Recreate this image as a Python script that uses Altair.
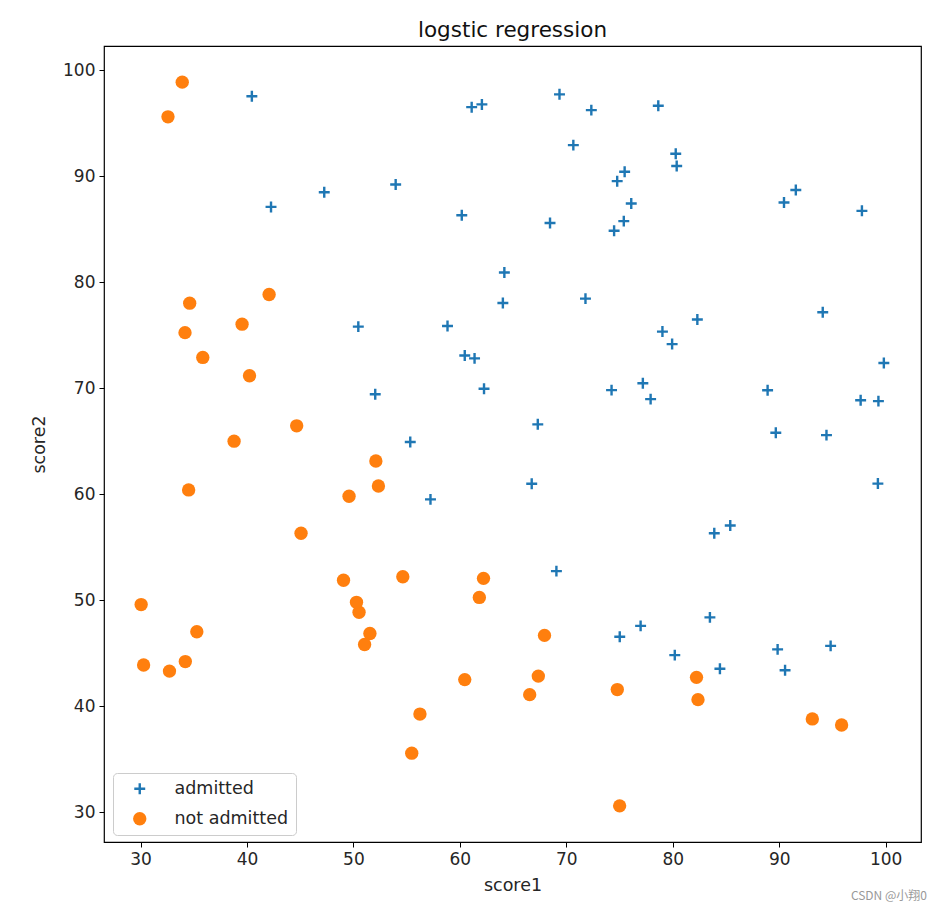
import altair as alt
import pandas as pd

# admitted (label 1)
admitted_score1 = [60.18, 79.03, 61.11, 75.02, 76.10, 84.43, 82.31, 69.36, 53.97, 69.07,
                   70.66, 76.98, 89.68, 77.92, 62.27, 80.19, 61.38, 85.40, 52.05, 64.18,
                   83.90, 94.44, 77.19, 97.77, 62.07, 91.56, 79.94, 99.27, 90.55, 97.65,
                   74.25, 71.80, 75.40, 40.46, 80.28, 66.75, 64.04, 72.35, 60.46, 58.84,
                   99.83, 47.26, 50.46, 88.91, 94.83, 67.32, 57.24, 80.37, 68.47, 75.48,
                   78.64, 94.09, 90.45, 74.49, 89.85, 83.49, 42.26, 99.32, 55.34, 74.78]
admitted_score2 = [86.31, 75.34, 96.51, 46.55, 87.42, 43.53, 76.48, 97.72, 89.21, 52.74,
                   92.93, 47.58, 65.80, 68.97, 69.95, 44.82, 72.81, 57.05, 69.43, 80.91,
                   56.31, 65.57, 70.46, 86.73, 96.77, 88.70, 74.16, 61.00, 43.39, 68.86,
                   69.82, 78.45, 85.76, 97.54, 92.12, 60.99, 78.03, 96.23, 73.09, 75.86,
                   72.37, 88.48, 75.81, 69.80, 45.69, 66.59, 59.51, 90.96, 85.59, 90.42,
                   96.65, 77.16, 87.51, 84.85, 45.36, 48.38, 87.10, 68.78, 64.93, 89.53]

# not admitted (label 0)
rejected_score1 = [34.62, 30.29, 35.85, 45.08, 95.86, 75.01, 39.54, 67.95, 67.37, 50.53,
                   34.21, 93.11, 61.83, 38.79, 52.11, 40.24, 54.64, 33.92, 74.79, 34.18,
                   51.55, 82.37, 51.05, 62.22, 34.52, 50.29, 49.59, 32.58, 35.29, 56.25,
                   30.06, 44.67, 66.56, 49.07, 32.72, 60.46, 82.23, 42.08, 52.35, 55.48]
rejected_score2 = [78.02, 43.89, 72.90, 56.32, 38.23, 30.60, 76.04, 46.68, 42.84, 48.86,
                   44.21, 38.80, 50.26, 65.00, 63.13, 71.17, 52.21, 98.87, 41.57, 75.24,
                   46.86, 40.62, 45.82, 52.06, 60.40, 49.80, 59.81, 95.60, 47.02, 39.26,
                   49.59, 66.45, 41.09, 51.88, 43.31, 42.51, 42.72, 78.84, 60.77, 35.57]

categories = ["admitted", "not admitted"]
colors = ["#1f77b4", "#ff7f0e"]
x_limits = [26.57, 103.32]
y_limits = [27.19, 102.28]
tick_values = [30, 40, 50, 60, 70, 80, 90, 100]
title_text = "logstic regression"
watermark = "CSDN @小翔0"

df = pd.concat([
    pd.DataFrame({"score1": admitted_score1, "score2": admitted_score2, "label": categories[0]}),
    pd.DataFrame({"score1": rejected_score1, "score2": rejected_score2, "label": categories[1]}),
], ignore_index=True)

plus_path = ("M-0.82,-0.18L-0.18,-0.18L-0.18,-0.82L0.18,-0.82L0.18,-0.18L0.82,-0.18"
             "L0.82,0.18L0.18,0.18L0.18,0.82L-0.18,0.82L-0.18,0.18L-0.82,0.18Z")

FONT = "DejaVu Sans"
TXT = "#262626"

points = alt.Chart(df).mark_point(filled=True, opacity=1, size=178, strokeWidth=0).encode(
    x=alt.X("score1:Q", scale=alt.Scale(domain=x_limits, nice=False, zero=False),
            axis=alt.Axis(values=tick_values, title="score1")),
    y=alt.Y("score2:Q", scale=alt.Scale(domain=y_limits, nice=False, zero=False),
            axis=alt.Axis(values=tick_values, title="score2")),
    color=alt.Color("label:N", scale=alt.Scale(domain=categories, range=colors),
                    legend=alt.Legend(title=None, orient="none", legendX=9, legendY=727,
                                      padding=7, symbolOffset=11, labelOffset=26,
                                      rowPadding=11, symbolSize=178,
                                      fillColor="rgba(255,255,255,0.8)",
                                      strokeColor="#cccccc", cornerRadius=4,
                                      labelFont=FONT, labelFontSize=17.5, labelColor=TXT,
                                      symbolStrokeWidth=0)),
    shape=alt.Shape("label:N", scale=alt.Scale(domain=categories, range=[plus_path, "circle"]),
                    legend=None),
    order=alt.Order("order:Q"),
).transform_calculate(order="datum.label == 'admitted' ? 0 : 1")

wm = alt.Chart(pd.DataFrame({"t": [watermark]})).mark_text(
    align="right", baseline="middle", font="Noto Sans CJK SC", fontSize=12, color="#999999"
).encode(text="t:N", x=alt.value(823), y=alt.value(850))

chart = alt.layer(points, wm).properties(
    width=817, height=796,
    title=alt.TitleParams(title_text, font=FONT, fontSize=21.5, fontWeight="normal",
                          color="#111111", offset=5, anchor="middle"),
    autosize=alt.AutoSizeParams(type="none"),
    padding={"left": 96, "top": 38, "right": 17, "bottom": 62},
).configure_view(stroke="#000000", strokeWidth=1.2).configure_axis(
    grid=False, domain=False, tickSize=5, tickColor="#000000", tickWidth=1,
    labelFont=FONT, labelFontSize=17, labelColor=TXT, labelPadding=4,
    titleFont=FONT, titleFontSize=17.5, titleFontWeight="normal", titleColor=TXT,
).configure_axisX(titlePadding=9).configure_axisY(titlePadding=14)

chart.save("out.html", embed_options={"renderer": "svg", "actions": False})
